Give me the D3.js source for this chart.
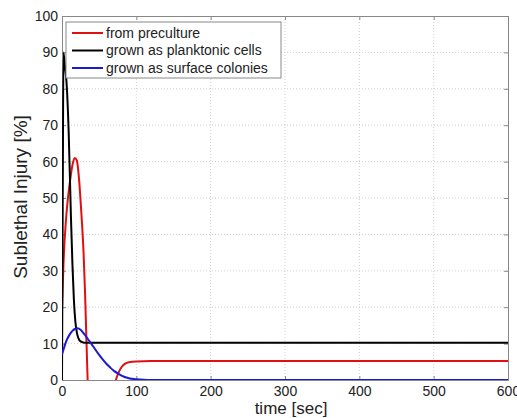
<!DOCTYPE html>
<html>
<head>
<meta charset="utf-8">
<script src="https://cdn.jsdelivr.net/npm/d3@7"></script>
<style>
  body { margin: 0; background: #fff; }
  svg { font-family: "Liberation Sans", Arial, sans-serif; }
</style>
</head>
<body>
<svg id="chart" width="517" height="418"></svg>
<script>
// series: [time sec, injury %]
const preculture = [[0,19],[2,32],[5,43],[8,50],[11,55],[14,59],[17,61],[20,60.3],[23,55],[26,46],[29,35],[31,24],[33,10],[34.5,0],[36,-10],[45,-30],[60,-15],[70,-3],[72.6,0],[76,2],[80,3.5],[85,4.5],[90,4.9],[100,5.1],[120,5.2],[600,5.2]];
const planktonic = [[0,0],[1,50],[2,90],[4,86],[6,82],[9,68],[12,45],[14,32],[16,22],[18,16],[20,13],[22,11.5],[25,10.6],[30,10.25],[600,10.25]];
const colonies = [[0,7],[3,9],[6,10.8],[10,12.4],[14,13.5],[18,14.1],[21,14.2],[25,13.8],[30,12.6],[35,11.2],[40,9.8],[45,8.3],[50,6.9],[55,5.6],[60,4.4],[65,3.4],[70,2.5],[75,1.8],[80,1.2],[90,0.5],[100,0.2],[110,0.05],[120,0],[600,0]];

const series = [
  { name: "from preculture", data: preculture, color: "#e01010" },
  { name: "grown as planktonic cells", data: planktonic, color: "#000000" },
  { name: "grown as surface colonies", data: colonies, color: "#1a1ad0" }
];

const xTicks = [0, 100, 200, 300, 400, 500, 600];
const yTicks = [0, 10, 20, 30, 40, 50, 60, 70, 80, 90, 100];

const svg = d3.select("#chart");
const plotL = 62, plotR = 508, plotT = 16, plotB = 380;

let xScale = d3.scaleLinear().domain([0, 600]).range([plotL, plotR]);
let yScale = d3.scaleLinear().domain([0, 100]).range([plotB, plotT]);

svg.append("defs").append("clipPath").attr("id", "plotclip")
  .append("rect")
    .attr("x", plotL).attr("y", plotT)
    .attr("width", plotR - plotL).attr("height", plotB - plotT);

/* grid */
let grid = svg.append("g").attr("id", "grid")
  .attr("stroke", "#d0d0d0").attr("stroke-dasharray", "1,2").attr("stroke-width", 1);
grid.selectAll(".gx").data(xTicks.slice(1, -1)).join("line")
  .attr("x1", d => xScale(d)).attr("x2", d => xScale(d))
  .attr("y1", plotT).attr("y2", plotB);
grid.selectAll(".gy").data(yTicks.slice(1, -1)).join("line")
  .attr("y1", d => yScale(d)).attr("y2", d => yScale(d))
  .attr("x1", plotL).attr("x2", plotR);

/* axes */
svg.append("g")
  .attr("transform", "translate(0," + plotB + ")")
  .call(d3.axisBottom(xScale).tickValues(xTicks).tickSize(-4).tickPadding(6));
svg.append("g")
  .attr("transform", "translate(" + plotL + ",0)")
  .call(d3.axisLeft(yScale).tickValues(yTicks).tickSize(-4).tickPadding(4));
svg.append("g")
  .attr("transform", "translate(0," + plotT + ")")
  .call(d3.axisTop(xScale).tickValues(xTicks).tickSize(-4).tickFormat(""));
svg.append("g")
  .attr("transform", "translate(" + plotR + ",0)")
  .call(d3.axisRight(yScale).tickValues(yTicks).tickSize(-4).tickFormat(""));

svg.selectAll(".domain").attr("stroke", "#888");
svg.selectAll(".tick line").attr("stroke", "#888");
svg.selectAll(".tick text").attr("fill", "#222").style("font-size", "14px");

/* curves */
let line = d3.line()
  .x(d => xScale(d[0]))
  .y(d => yScale(d[1]))
  .curve(d3.curveMonotoneX);

svg.append("g").attr("id", "curves").attr("clip-path", "url(#plotclip)")
  .selectAll("path")
  .data(series)
  .join("path")
    .attr("d", d => line(d.data))
    .attr("fill", "none")
    .attr("stroke", d => d.color)
    .attr("stroke-width", 2);

/* legend */
let legend = svg.append("g").attr("id", "legend").attr("transform", "translate(66,22)");
legend.append("rect")
  .attr("width", 215).attr("height", 56)
  .attr("fill", "#fff").attr("stroke", "#888");
let rows = legend.selectAll(".row").data(series).join("g")
  .attr("transform", (d, i) => "translate(0," + (11 + i * 17.5) + ")");
rows.append("line")
  .attr("x1", 6).attr("x2", 37)
  .attr("stroke", d => d.color).attr("stroke-width", 2);
rows.append("text")
  .attr("x", 40).attr("dy", "0.35em")
  .attr("fill", "#222")
  .style("font-size", "14px")
  .text(d => d.name);

/* axis labels */
svg.append("text")
  .attr("x", 291).attr("y", 414)
  .attr("text-anchor", "middle").attr("fill", "#222")
  .style("font-size", "17px")
  .text("time [sec]");
svg.append("text")
  .attr("transform", "translate(27,197) rotate(-90)")
  .attr("text-anchor", "middle").attr("fill", "#222")
  .style("font-size", "19px")
  .text("Sublethal Injury [%]");
</script>
</body>
</html>
